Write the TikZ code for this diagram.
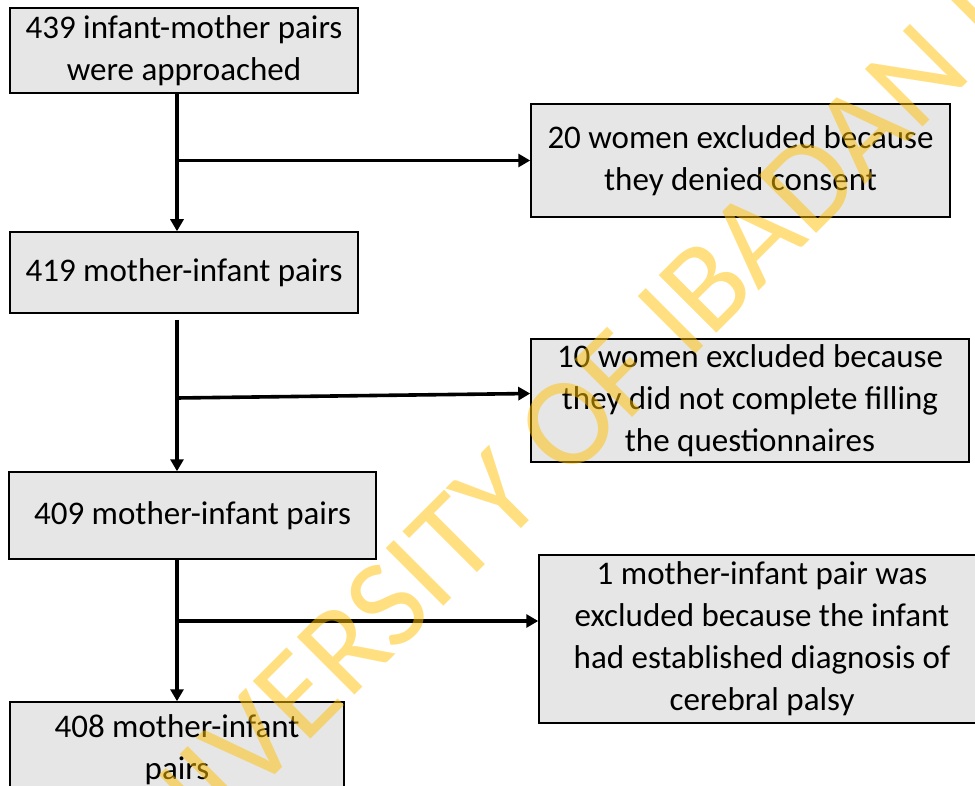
\documentclass[tikz,border=0pt]{standalone}
\usepackage{fontspec}
\setmainfont{Carlito}
\usetikzlibrary{arrows.meta}
\definecolor{boxgray}{RGB}{230,230,230}
\definecolor{wmyellow}{RGB}{255,192,0}
\begin{document}
\begin{tikzpicture}[x=1pt,y=-1pt,
  box/.style={draw=black, line width=1.5pt, fill=boxgray, inner sep=0pt, align=center,
    font=\fontsize{33}{42}\selectfont},
  arr/.style={line width=3.6pt, -{Triangle[length=12pt,width=13pt]}},
  wmark/.style={text=wmyellow, text opacity=0.5, rotate=45, inner sep=0pt,
    font=\fontsize{127}{127}\selectfont}]
\useasboundingbox (0,0) rectangle (975,786);
\clip (0,0) rectangle (975,786);
\fill[white] (0,0) rectangle (975,786);

\node[box, minimum width=348pt, minimum height=85pt] (b1) at (184,50.5) {439 infant-mother pairs\\were approached};
\node[box, minimum width=348pt, minimum height=81pt] (b2) at (184,272.5) {419 mother-infant pairs};
\node[box, minimum width=367pt, minimum height=87pt] (b3) at (192.5,515.5) {409 mother-infant pairs};
\node[box, minimum width=334pt, minimum height=96pt] (b4) at (177,750) {408 mother-infant\\pairs};

\node[box, minimum width=419pt, minimum height=113pt] (r1) at (740.5,160.5) {20 women excluded because\\they denied consent};
\node[box, minimum width=438pt, minimum height=123pt] (r2) at (750,400.5) {10 women excluded because\\they did not complete filling\\the questionnaires};
\node[box, minimum width=446pt, minimum height=168pt] (r3) at (762,639) {1 mother-infant pair was\\excluded because the infant\\had established diagnosis of\\cerebral palsy};

\coordinate (spine) at (177,0);
\coordinate (j2) at (177,398);
\coordinate (j3) at (177,621);
\path (b2.south -| spine) ++(0,6) coordinate (v2s);

\draw[arr] (b1.south -| spine) -- (b2.north -| spine);
\draw[arr] (spine |- r1.west) -- (r1.west);
\draw[arr] (v2s) -- (b3.north -| spine);
\draw[arr] (j2) -- ([yshift=7pt]r2.west);
\draw[arr] (b3.south -| spine) -- (b4.north -| spine);
\draw[arr] (j3) -- (r3.west |- j3);

\node[wmark, anchor=base west] (wm2) at (567,483) {OF IBADAN LIBRARY};
\node[wmark, anchor=base east] (wm1) at (wm2.base west) {UNIVERSITY\rule{28pt}{0pt}};
\end{tikzpicture}
\end{document}
